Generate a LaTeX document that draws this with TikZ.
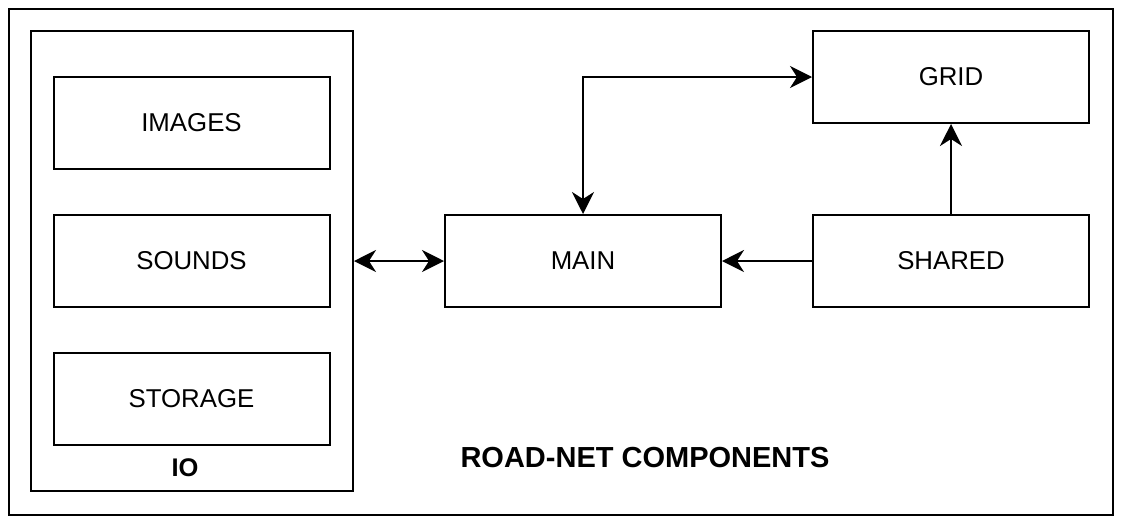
\documentclass[tikz,border=0pt]{standalone}
\usepackage{fontspec}
\setmainfont{Liberation Sans}
\usetikzlibrary{arrows.meta}
\begin{document}
\begin{tikzpicture}[x=1pt,y=-1pt,
  box/.style={draw,line width=2pt,minimum width=276pt,minimum height=92pt,inner sep=0pt,font=\fontsize{25.8}{30}\selectfont},
  tip/.tip={Stealth[length=22pt,width=22pt,inset=7pt]},
  conn/.style={line width=2pt,-tip},
  bconn/.style={line width=2pt,tip-tip}]
\useasboundingbox (0,0) rectangle (1121,523);
\node[draw,line width=2pt,minimum width=1104pt,minimum height=506pt,inner sep=0pt] (frame) at (561,262) {};
\node[draw,line width=2pt,minimum width=322pt,minimum height=460pt,inner sep=0pt] (io) at (192,261) {};
\node[font=\bfseries\fontsize{25.5}{30}\selectfont] (iolabel) at (185,468) {IO};
\node[box] (images) at (191.5,123) {IMAGES};
\node[box] (sounds) at (191.5,261) {SOUNDS};
\node[box] (storage) at (191.5,399) {STORAGE};
\node[box] (main) at (583,261) {MAIN};
\node[box] (grid) at (951,77) {GRID};
\node[box] (shared) at (951,261) {SHARED};
\node[font=\bfseries\fontsize{29}{34}\selectfont] (title) at (645,458) {ROAD-NET COMPONENTS};
\draw[bconn] (io.east) -- (main.west);
\draw[conn] (shared.west) -- (main.east);
\draw[conn] (shared.north) -- (grid.south);
\draw[bconn] (main.north) |- (grid.west);
\end{tikzpicture}
\end{document}
